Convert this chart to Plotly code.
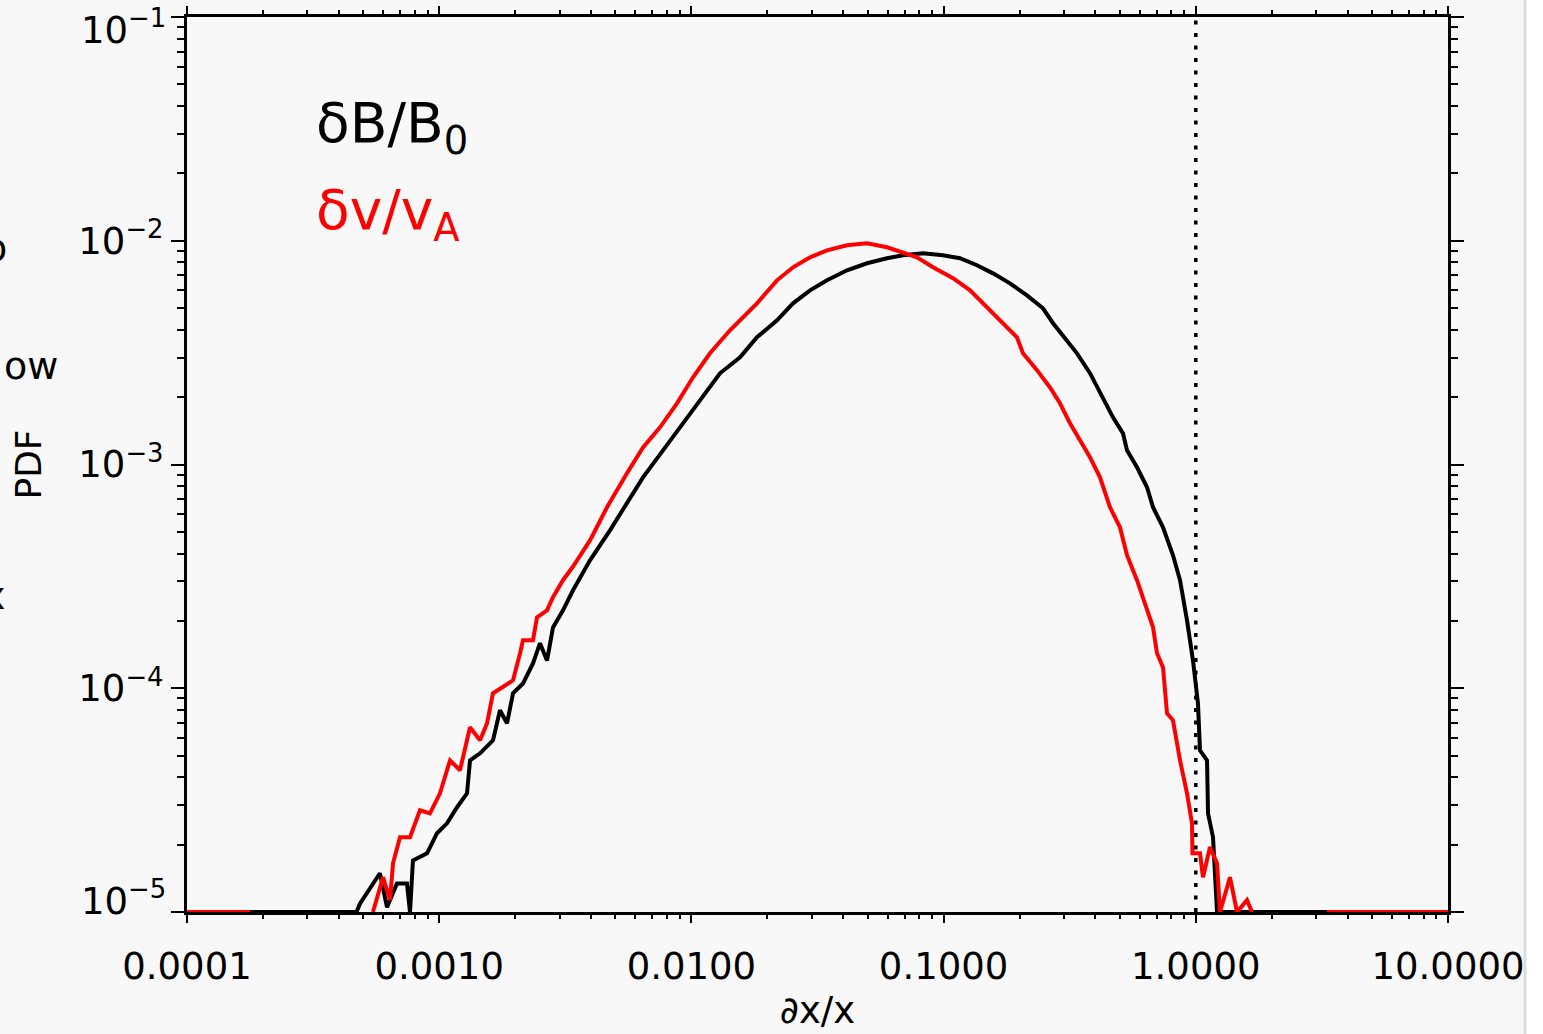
import math
import plotly.graph_objects as go

# Fractional fluctuation amplitude (bin centres) and PDF, magnetic field dB/B0
db_x = [1.0e-4, 4.7e-4, 4.85e-4, 5.32e-4, 5.82e-4, 6.21e-4, 6.80e-4, 7.45e-4, 7.66e-4, 7.87e-4,
        8.95e-4, 9.80e-4, 1.074e-3, 1.177e-3, 1.289e-3, 1.325e-3, 1.452e-3, 1.634e-3, 1.742e-3,
        1.857e-3, 1.962e-3, 2.149e-3, 2.354e-3, 2.510e-3, 2.676e-3, 2.826e-3, 3.096e-3, 3.393e-3,
        3.962e-3, 4.755e-3, 5.553e-3, 6.428e-3, 7.716e-3, 9.26e-3, 1.082e-2, 1.298e-2, 1.559e-2,
        1.820e-2, 2.185e-2, 2.529e-2, 2.954e-2, 3.449e-2, 4.140e-2, 4.969e-2, 5.964e-2, 6.902e-2,
        8.28e-2, 9.94e-2, 0.1161, 0.1356, 0.1570, 0.1833, 0.2141, 0.2478, 0.2716, 0.3085, 0.3380,
        0.3806, 0.4170, 0.4695, 0.5143, 0.5335, 0.5846, 0.6406, 0.6767, 0.7413, 0.8121, 0.8659,
        0.9229, 0.9747, 1.020, 1.039, 1.108, 1.118, 1.170, 1.214, 10.0]
db_pdf = [1.0e-5, 1.0e-5, 1.09e-5, 1.29e-5, 1.49e-5, 1.05e-5, 1.34e-5, 1.34e-5, 1.0e-5, 1.70e-5,
          1.83e-5, 2.25e-5, 2.49e-5, 2.94e-5, 3.39e-5, 4.76e-5, 5.12e-5, 5.85e-5, 7.97e-5,
          6.97e-5, 9.49e-5, 1.05e-4, 1.29e-4, 1.59e-4, 1.33e-4, 1.87e-4, 2.23e-4, 2.74e-4,
          3.73e-4, 5.08e-4, 6.71e-4, 8.76e-4, 1.157e-3, 1.528e-3, 1.936e-3, 2.556e-3, 3.013e-3,
          3.703e-3, 4.410e-3, 5.254e-3, 6.005e-3, 6.655e-3, 7.377e-3, 7.930e-3, 8.349e-3, 8.610e-3,
          8.79e-3, 8.61e-3, 8.35e-3, 7.77e-3, 7.15e-3, 6.45e-3, 5.70e-3, 4.99e-3, 4.28e-3, 3.59e-3,
          3.14e-3, 2.56e-3, 2.08e-3, 1.625e-3, 1.378e-3, 1.157e-3, 9.72e-4, 7.91e-4, 6.44e-4,
          5.24e-4, 3.93e-4, 3.04e-4, 2.01e-4, 1.33e-4, 8.56e-5, 5.28e-5, 4.76e-5, 2.76e-5, 2.16e-5,
          1.0e-5, 1.0e-5]

# Same for the velocity fluctuation dv/vA (None = empty bins below the plotted range)
dv_x = [1.0e-4, 1.78e-4, 1.8e-4, 5.46e-4, 5.99e-4, 6.38e-4, 6.56e-4, 6.99e-4, 7.66e-4, 8.39e-4,
        9.19e-4, 1.007e-3, 1.104e-3, 1.209e-3, 1.325e-3, 1.452e-3, 1.547e-3, 1.634e-3, 1.791e-3,
        1.962e-3, 2.092e-3, 2.149e-3, 2.354e-3, 2.442e-3, 2.676e-3, 2.826e-3, 3.096e-3, 3.393e-3,
        3.962e-3, 4.627e-3, 5.553e-3, 6.428e-3, 7.507e-3, 8.767e-3, 1.015e-2, 1.185e-2, 1.422e-2,
        1.820e-2, 2.185e-2, 2.529e-2, 2.954e-2, 3.449e-2, 4.140e-2, 4.969e-2, 5.964e-2, 6.902e-2,
        7.84e-2, 9.08e-2, 0.1090, 0.1273, 0.1486, 0.1720, 0.1954, 0.2064, 0.2346, 0.2642, 0.2893,
        0.3171, 0.3474, 0.3806, 0.4170, 0.4568, 0.5004, 0.5335, 0.5846, 0.6406, 0.6767, 0.7019,
        0.7413, 0.7688, 0.8121, 0.8659, 0.9229, 0.9658, 0.970, 1.039, 1.068, 1.138, 1.214, 1.247,
        1.366, 1.457, 1.596, 1.671, 1.68, 3.31, 10.0]
dv_pdf = [1.0e-5, 1.0e-5, None, 1.0e-5, 1.43e-5, 1.13e-5, 1.65e-5, 2.16e-5, 2.16e-5, 2.85e-5,
          2.76e-5, 3.39e-5, 4.76e-5, 4.30e-5, 6.69e-5, 5.85e-5, 6.97e-5, 9.49e-5, 1.01e-4,
          1.085e-4, 1.433e-4, 1.638e-4, 1.638e-4, 2.075e-4, 2.23e-4, 2.55e-4, 3.04e-4, 3.5e-4,
          4.58e-4, 6.44e-4, 9.13e-4, 1.193e-3, 1.466e-3, 1.877e-3, 2.453e-3, 3.141e-3, 3.979e-3,
          5.254e-3, 6.655e-3, 7.61e-3, 8.43e-3, 9.06e-3, 9.54e-3, 9.74e-3, 9.35e-3, 8.88e-3,
          8.43e-3, 7.61e-3, 6.80e-3, 6.00e-3, 5.04e-3, 4.28e-3, 3.70e-3, 3.14e-3, 2.64e-3, 2.21e-3,
          1.877e-3, 1.528e-3, 1.283e-3, 1.077e-3, 8.76e-4, 6.44e-4, 5.24e-4, 3.93e-4, 3.04e-4,
          2.2e-4, 1.873e-4, 1.433e-4, 1.24e-4, 7.73e-5, 7.19e-5, 4.76e-5, 3.39e-5, 2.49e-5, 1.83e-5,
          1.83e-5, 1.43e-5, 1.95e-5, 1.65e-5, 1.0e-5, 1.43e-5, 1.0e-5, 1.13e-5, 1.0e-5, None,
          1.0e-5, 1.0e-5]

x_ticks = [1e-4, 1e-3, 1e-2, 1e-1, 1.0, 10.0]
x_ticktext = ["0.0001", "0.0010", "0.0100", "0.1000", "1.0000", "10.0000"]
y_ticks = [1e-5, 1e-4, 1e-3, 1e-2, 1e-1]
y_ticktext = ["10<sup>\u22125</sup>", "10<sup>\u22124</sup>", "10<sup>\u22123</sup>",
              "10<sup>\u22122</sup>", "10<sup>\u22121</sup>"]
unit_amplitude = 1.0

FONT = "DejaVu Sans"
BG = "#f8f8f8"
TICK_SIZE = 37

fig = go.Figure()
fig.add_trace(go.Scatter(x=db_x, y=db_pdf, mode="lines",
                         line=dict(color="black", width=4), showlegend=False))
fig.add_trace(go.Scatter(x=dv_x, y=dv_pdf, mode="lines",
                         line=dict(color="#ff0000", width=4), showlegend=False))

# dotted marker at unit amplitude
fig.add_shape(type="line", xref="x", yref="paper", x0=unit_amplitude, x1=unit_amplitude,
              y0=0, y1=1, line=dict(color="black", width=3.5, dash="4px,8.5px"), layer="above")

axis_common = dict(
    type="log", showgrid=False, zeroline=False, showline=True, linecolor="black",
    linewidth=3, mirror="allticks", ticks="outside", tickcolor="black", tickwidth=2,
    tickfont=dict(family=FONT, size=TICK_SIZE, color="black"), layer="below traces",
)

# end labels of the y axis sit inside the axis span, so they are placed separately
inner_ticktext = [t if 0 < i < len(y_ticks) - 1 else "" for i, t in enumerate(y_ticktext)]

fig.update_xaxes(
    **axis_common, range=[-4, 1], tickmode="array", tickvals=x_ticks, ticktext=x_ticktext,
    ticklen=8, ticklabelstandoff=12,
    minor=dict(ticks="outside", ticklen=4, tickwidth=2, tickcolor="black", dtick="D1"),
    title=dict(text="\u2202x/x", font=dict(family=FONT, size=37, color="black"), standoff=10),
)
fig.update_yaxes(
    **axis_common, range=[-5, -1], tickmode="array", tickvals=y_ticks, ticktext=inner_ticktext,
    ticklen=13,
    minor=dict(ticks="outside", ticklen=7, tickwidth=2, tickcolor="black", dtick="D1"),
    title=dict(text="PDF", font=dict(family=FONT, size=36, color="black"), standoff=26),
)

for val, txt, shift in [(y_ticks[0], y_ticktext[0], 14), (y_ticks[-1], y_ticktext[-1], -10)]:
    fig.add_annotation(xref="paper", yref="y", x=0, y=math.log10(val),
                       xanchor="right", yanchor="middle", xshift=-19, yshift=shift,
                       showarrow=False, text=txt,
                       font=dict(family=FONT, size=TICK_SIZE, color="black"))

# series labels
fig.add_annotation(xref="paper", yref="paper", x=0.1005, y=0.877, xanchor="left",
                   yanchor="middle", showarrow=False, text="\u03b4B/B<sub>0</sub>",
                   font=dict(family=FONT, size=55, color="black"))
fig.add_annotation(xref="paper", yref="paper", x=0.1005, y=0.780, xanchor="left",
                   yanchor="middle", showarrow=False, text="\u03b4v/v<sub>A</sub>",
                   font=dict(family=FONT, size=55, color="#ff0000"))

# fragments of neighbouring text at the left edge
for txt, xr, yp in [("o", 9, 248), ("ow", 60, 366), ("x", 8, 596)]:
    fig.add_annotation(xref="paper", yref="paper", x=(xr - 187) / 1261,
                       y=(912 - yp) / 895, xanchor="right", yanchor="middle",
                       showarrow=False, text=txt,
                       font=dict(family=FONT, size=38, color="black"))

# page edge on the right
fig.add_shape(type="rect", xref="paper", yref="paper", x0=(1524 - 187) / 1261, x1=1.1,
              y0=-0.2, y1=1.05, fillcolor="white", line=dict(width=0), layer="above")
fig.add_shape(type="line", xref="paper", yref="paper", x0=(1525 - 187) / 1261,
              x1=(1525 - 187) / 1261, y0=-0.2, y1=1.05,
              line=dict(color="#dcdcdc", width=3), layer="above")

fig.update_layout(
    width=1543, height=1034, autosize=False,
    margin=dict(l=187, r=95, t=17, b=122, autoexpand=False),
    paper_bgcolor=BG, plot_bgcolor=BG,
    font=dict(family=FONT, color="black"),
)

fig.write_html("out.html")
